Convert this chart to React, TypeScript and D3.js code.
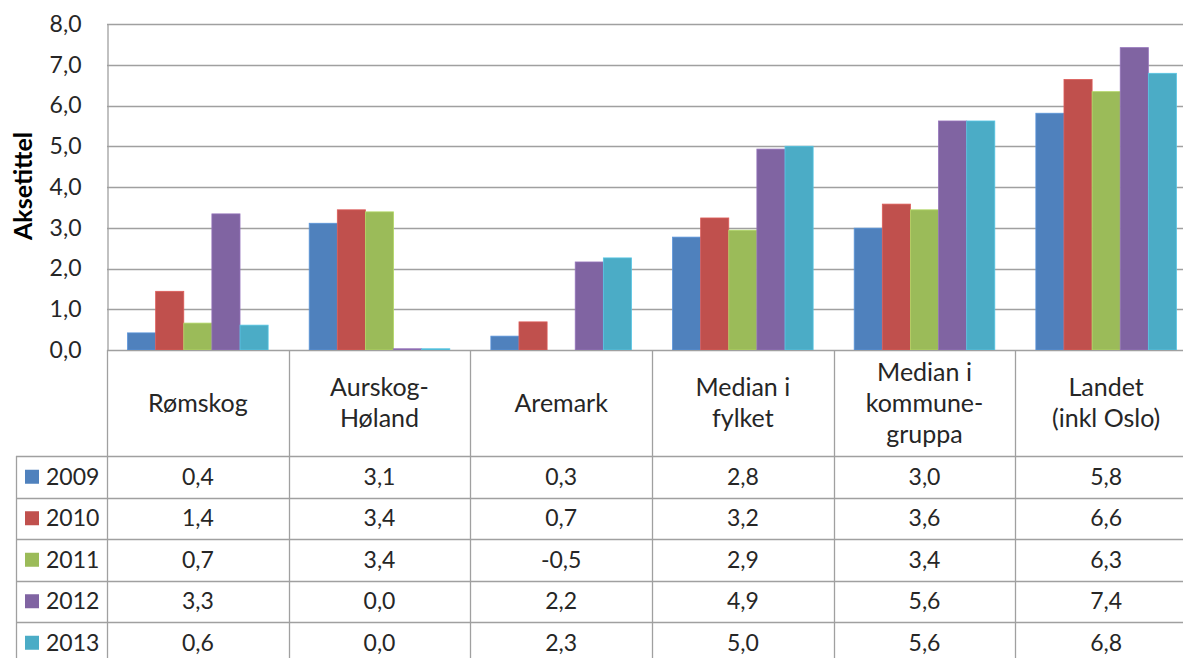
import { useEffect, useRef } from 'react';
import * as d3 from 'd3';

const categories = [
  ['Rømskog'],
  ['Aurskog-', 'Høland'],
  ['Aremark'],
  ['Median i', 'fylket'],
  ['Median i', 'kommune-', 'gruppa'],
  ['Landet', '(inkl Oslo)'],
];
const years = ['2009', '2010', '2011', '2012', '2013'];
const colors = ['#4F81BD', '#C0504D', '#9BBB59', '#8064A2', '#4BACC6'];

// one array per year, in category order
const v2009 = [0.42, 3.11, 0.34, 2.77, 2.99, 5.81];
const v2010 = [1.44, 3.44, 0.69, 3.24, 3.58, 6.64];
const v2011 = [0.66, 3.39, -0.5, 2.94, 3.44, 6.34];
const v2012 = [3.34, 0.03, 2.16, 4.93, 5.62, 7.42];
const v2013 = [0.61, 0.03, 2.26, 5.0, 5.62, 6.79];
const series = [v2009, v2010, v2011, v2012, v2013];

const yTicks = [0, 1, 2, 3, 4, 5, 6, 7, 8];

const W = 1183;
const H = 658;
const FONT = 'Lato, "Open Sans", sans-serif';
const TEXT = '#262626';
const LINE = '#A0A0A0';

const App = () => {
  const ref = useRef<SVGSVGElement>(null);

  useEffect(() => {
    if (!ref.current) return;
    const svg = d3.select(ref.current);
    svg.selectAll('*').remove();

    const left = 107;
    const right = 1197;
    const top = 24;
    const bottom = 350;
    const headerBottom = 456;
    const rowH = 41.5;
    const legendLeft = 16;

    const keys = categories.map((c) => c.join(' '));
    const x0 = d3.scaleBand().domain(keys).range([left, right]).padding(0);
    const bw = x0.bandwidth();
    const x1 = d3
      .scaleBand()
      .domain(years)
      .range([bw * 0.113, bw * 0.887])
      .padding(0);
    const y = d3.scaleLinear().domain([0, 8]).range([bottom, top]);
    const fmt = (v: number) => d3.format('.1f')(v).replace('.', ',').replace('−', '-');

    // clip for plot area (negative values hidden)
    svg
      .append('defs')
      .append('clipPath')
      .attr('id', 'plotclip')
      .append('rect')
      .attr('x', left)
      .attr('y', top - 1)
      .attr('width', right - left)
      .attr('height', bottom - top + 1);

    // gridlines
    svg
      .append('g')
      .selectAll('line')
      .data(yTicks)
      .enter()
      .append('line')
      .attr('x1', left)
      .attr('x2', right)
      .attr('y1', (d) => Math.round(y(d)) + 0.5)
      .attr('y2', (d) => Math.round(y(d)) + 0.5)
      .attr('stroke', LINE)
      .attr('stroke-width', 1.3);

    // y axis
    const yAxis = svg
      .append('g')
      .attr('transform', `translate(${left + 0.5},0)`)
      .call(
        d3
          .axisLeft(y)
          .tickValues(yTicks)
          .tickSize(0)
          .tickPadding(26)
          .tickFormat((d) => fmt(d as number))
      );
    yAxis.select('.domain').attr('stroke', LINE).attr('stroke-width', 1.3);
    yAxis
      .selectAll('text')
      .attr('font-family', FONT)
      .attr('font-size', 23)
      .attr('fill', TEXT);

    // axis title
    svg
      .append('text')
      .attr('transform', `translate(32,186) rotate(-90)`)
      .attr('text-anchor', 'middle')
      .attr('font-family', FONT)
      .attr('font-weight', 'bold')
      .attr('font-size', 25)
      .attr('fill', '#000')
      .text('Aksetittel');

    // bars
    const bars = svg.append('g').attr('clip-path', 'url(#plotclip)');
    series.forEach((vals, si) => {
      bars
        .selectAll(`.bar${si}`)
        .data(vals)
        .enter()
        .append('rect')
        .attr('class', `bar${si}`)
        .attr('x', (_, i) => (x0(keys[i]) || 0) + (x1(years[si]) || 0))
        .attr('y', (d) => y(Math.max(d, 0)))
        .attr('width', x1.bandwidth())
        .attr('height', (d) => Math.max(0, y(0) - y(d)))
        .attr('fill', colors[si])
        .attr('stroke', d3.color(colors[si])!.brighter(0.4).toString())
        .attr('stroke-width', 0.8);
    });

    // data table
    const table = svg.append('g');
    const vLines = [left, ...keys.map((k) => (x0(k) || 0) + bw)];
    vLines.forEach((vx) => {
      table
        .append('line')
        .attr('x1', Math.round(vx) + 0.5)
        .attr('x2', Math.round(vx) + 0.5)
        .attr('y1', bottom)
        .attr('y2', H)
        .attr('stroke', LINE)
        .attr('stroke-width', 1.3);
    });
    table
      .append('line')
      .attr('x1', legendLeft + 0.5)
      .attr('x2', legendLeft + 0.5)
      .attr('y1', headerBottom)
      .attr('y2', H)
      .attr('stroke', LINE)
      .attr('stroke-width', 1.3);
    years.forEach((_, ri) => {
      const ly = Math.round(headerBottom + ri * rowH) + 0.5;
      table
        .append('line')
        .attr('x1', legendLeft)
        .attr('x2', right)
        .attr('y1', ly)
        .attr('y2', ly)
        .attr('stroke', LINE)
        .attr('stroke-width', 1.3);
    });

    // category headers
    const lineH = 31;
    const headerMid = (bottom + headerBottom) / 2;
    categories.forEach((lines, ci) => {
      const cx = (x0(keys[ci]) || 0) + bw / 2;
      const t = table
        .append('text')
        .attr('text-anchor', 'middle')
        .attr('font-family', FONT)
        .attr('font-size', 25)
        .attr('fill', TEXT);
      lines.forEach((ln, li) => {
        t.append('tspan')
          .attr('x', cx)
          .attr('y', headerMid + (li - (lines.length - 1) / 2) * lineH)
          .attr('dy', '0.35em')
          .text(ln);
      });
    });

    // rows
    years.forEach((yr, ri) => {
      const cy = headerBottom + ri * rowH + rowH / 2;
      table
        .append('rect')
        .attr('x', 25)
        .attr('y', cy - 7)
        .attr('width', 14)
        .attr('height', 14)
        .attr('fill', colors[ri]);
      table
        .append('text')
        .attr('x', 46)
        .attr('y', cy)
        .attr('dy', '0.35em')
        .attr('font-family', FONT)
        .attr('font-size', 23)
        .attr('fill', TEXT)
        .text(yr);
      series[ri].forEach((v, ci) => {
        table
          .append('text')
          .attr('x', (x0(keys[ci]) || 0) + bw / 2)
          .attr('y', cy)
          .attr('dy', '0.35em')
          .attr('text-anchor', 'middle')
          .attr('font-family', FONT)
          .attr('font-size', 23)
          .attr('fill', TEXT)
          .text(fmt(v));
      });
    });
  }, []);

  return (
    <svg
      ref={ref}
      width={W}
      height={H}
      style={{ position: 'absolute', left: 0, top: 0, background: '#fff' }}
    ></svg>
  );
};

export default App;
